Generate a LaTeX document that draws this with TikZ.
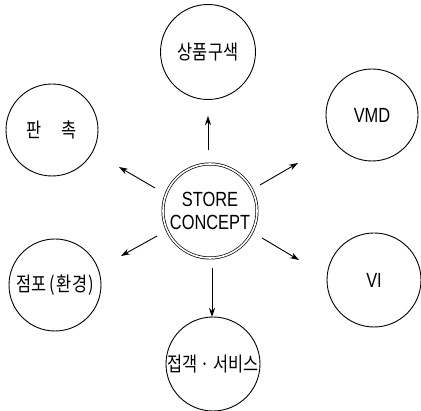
\documentclass[tikz,border=0pt]{standalone}
\usepackage{fontspec}
\setmainfont{Liberation Sans}[FakeStretch=0.8]
\newfontfamily\kr{Noto Sans CJK KR}[FakeStretch=0.82]
\usetikzlibrary{arrows.meta}
\begin{document}
\begin{tikzpicture}[x=1pt,y=1pt,
  bubble/.style={circle,draw,line width=0.9pt,minimum size=#1,inner sep=0pt,
    font=\fontsize{20.5}{23}\selectfont,align=center},
  krtext/.style={font=\kr\fontsize{20}{22}\selectfont},
  arr/.style={line width=0.9pt,-{Stealth[length=9pt,width=6pt]}}]
\useasboundingbox (0,0) rectangle (421,411);
\node[bubble=94pt,double,double distance=1.6pt,line width=0.7pt] (c) at (210,200) {STORE\\CONCEPT};
\node[bubble=95pt,krtext] (top) at (208,359) {상품구색};
\node[bubble=92pt,krtext] (pc) at (52,281) {판\hspace{1em}촉};
\node[bubble=92pt] (vmd) at (372,296) {VMD};
\node[bubble=92pt,krtext] (jp) at (55,126) {점포\hspace{3pt}(\hspace{2pt}환경\hspace{1pt})};
\node[bubble=94pt] (vi) at (374,131) {VI};
\node[bubble=94pt,krtext] (bt) at (213,47) {접객\hspace{3pt}·\hspace{3pt}서비스};
\coordinate (t1) at (208,261); \coordinate (t2) at (208,295);
\coordinate (ul1) at (155,223); \coordinate (ul2) at (119,244);
\coordinate (ur1) at (260,226); \coordinate (ur2) at (298,248);
\coordinate (ll1) at (157,175); \coordinate (ll2) at (121,155);
\coordinate (lr1) at (262,173); \coordinate (lr2) at (299,151);
\coordinate (b1) at (212,143); \coordinate (b2) at (212,94);
\draw[arr] (t1) -- (t2);
\draw[arr] (ul1) -- (ul2);
\draw[arr] (ur1) -- (ur2);
\draw[arr] (ll1) -- (ll2);
\draw[arr] (lr1) -- (lr2);
\draw[arr] (b1) -- (b2);
\end{tikzpicture}
\end{document}
